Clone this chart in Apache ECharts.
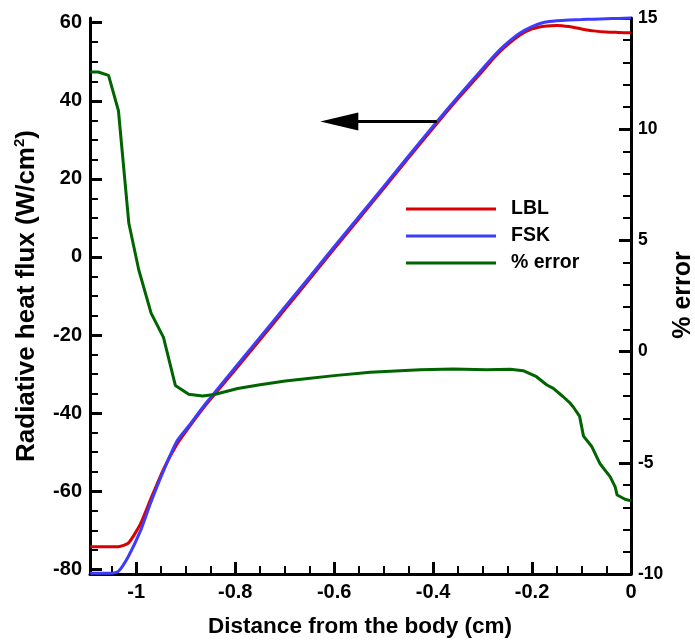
<!DOCTYPE html>
<html>
<head>
<meta charset="utf-8">
<script src="https://cdn.jsdelivr.net/npm/echarts@6/dist/echarts.min.js"></script>
<style>
html,body{margin:0;padding:0;background:#fff;}
#c{width:695px;height:642px;}
</style>
</head>
<body>
<div id="c"></div>
<script>
// ---- data ----
const fluxX = [-1.093, -1.07, -1.05, -1.036, -1.016, -0.992, -0.971, -0.945, -0.918, -0.894, -0.86, -0.8, -0.75, -0.7, -0.65, -0.6, -0.55, -0.5, -0.45, -0.4, -0.35, -0.3, -0.275, -0.25, -0.225, -0.2, -0.175, -0.15, -0.125, -0.1, -0.075, -0.05, -0.025, 0];
const lblValues = [-74.2, -74.2, -74.2, -74.2, -73.3, -68.5, -62.1, -54.4, -48.0, -43.7, -38.0, -28.9, -21.2, -13.5, -5.7, 2.1, 9.8, 17.5, 25.3, 33.0, 40.5, 47.6, 51.3, 54.3, 56.8, 58.4, 59.1, 59.3, 59.0, 58.4, 57.9, 57.6, 57.5, 57.4];
const fskValues = [-81.0, -81.0, -81.0, -80.5, -76.7, -70.3, -63.0, -54.8, -47.2, -43.3, -37.6, -28.3, -20.6, -12.9, -5.2, 2.6, 10.3, 18.0, 25.8, 33.5, 41.0, 48.2, 51.8, 54.8, 57.3, 59.0, 60.1, 60.5, 60.7, 60.8, 60.9, 61.0, 61.1, 61.2];
const errX = [-1.093, -1.077, -1.056, -1.036, -1.015, -0.995, -0.970, -0.945, -0.921, -0.894, -0.866, -0.842, -0.795, -0.753, -0.699, -0.662, -0.6, -0.527, -0.426, -0.359, -0.292, -0.244, -0.218, -0.191, -0.170, -0.157, -0.137, -0.123, -0.117, -0.104, -0.096, -0.079, -0.063, -0.042, -0.032, -0.028, -0.012, 0];
const errValues = [12.57, 12.57, 12.42, 10.83, 5.77, 3.68, 1.73, 0.64, -1.52, -1.92, -2.00, -1.93, -1.66, -1.50, -1.32, -1.23, -1.08, -0.93, -0.82, -0.78, -0.82, -0.79, -0.86, -1.13, -1.50, -1.65, -2.03, -2.32, -2.48, -2.90, -3.80, -4.28, -5.03, -5.63, -6.08, -6.45, -6.64, -6.71];
const seriesNames = ['LBL', 'FSK', '% error'];
const xTicks = [-1, -0.8, -0.6, -0.4, -0.2, 0];
const yLeftTicks = [-80, -60, -40, -20, 0, 20, 40, 60];
const yRightTicks = [-10, -5, 0, 5, 10, 15];
const arrowFrom = [-0.3925, 34.7];
const arrowTo = [-0.628, 34.7];

// minor tick positions
function minors(a, b, step, major) {
  const out = [];
  for (let v = a; v <= b + 1e-9; v += step) {
    const r = Math.round(v * 1000) / 1000;
    if (Math.abs(r / major - Math.round(r / major)) > 1e-6) out.push(r);
  }
  return out;
}
const xMinor = minors(-1.05, -0.05, 0.05, 0.2);
const yLeftMinor = minors(-75, 55, 5, 20);
const yRightMinor = minors(-9, 14, 1, 5);

const FONT = '"Liberation Sans", Arial, Helvetica, sans-serif';
const X_MIN = -1.0935, X_MAX = 0;
const YL_MIN = -81.2, YL_MAX = 61.2;
const YR_MIN = -10, YR_MAX = 15;

const chart = echarts.init(document.getElementById('c'), null, {renderer: 'canvas'});
const axisLineStyle = {color: '#000', width: 3};
const zip = (xs, ys) => xs.map((x, i) => [x, ys[i]]);
const gridBox = {left: 90, right: 64, top: 18, bottom: 68};
const hiddenLine = {show: false, onZero: false};
const majorTick = vals => ({show: true, inside: true, length: 12, lineStyle: {width: 3, color: '#000'}, customValues: vals});
const minorTick = vals => ({show: true, inside: true, length: 8, lineStyle: {width: 2, color: '#000'}, customValues: vals});

const option = {
  animation: false,
  backgroundColor: '#fff',
  grid: [Object.assign({}, gridBox), Object.assign({}, gridBox)],
  legend: {
    orient: 'vertical', left: 406, top: 199, padding: 0, icon: 'rect',
    itemWidth: 90, itemHeight: 3, itemGap: 7, data: seriesNames,
    textStyle: {fontFamily: FONT, fontWeight: 'bold', fontSize: 19.5, color: '#000', lineHeight: 20, padding: [0, 0, 0, 10]}
  },
  xAxis: [
    {type: 'value', gridIndex: 0, min: X_MIN, max: X_MAX, position: 'bottom',
      axisLine: {show: true, onZero: false, lineStyle: axisLineStyle},
      axisTick: majorTick(xTicks),
      axisLabel: {show: true, margin: 8, fontFamily: FONT, fontWeight: 'bold', fontSize: 20, color: '#000',
        customValues: xTicks, formatter: v => String(+(+v).toFixed(1))},
      splitLine: {show: false}},
    {type: 'value', gridIndex: 1, min: X_MIN, max: X_MAX, position: 'bottom',
      axisLine: hiddenLine, axisTick: minorTick(xMinor),
      axisLabel: {show: false}, splitLine: {show: false}}
  ],
  yAxis: [
    {type: 'value', gridIndex: 0, min: YL_MIN, max: YL_MAX, position: 'left',
      axisLine: {show: true, onZero: false, lineStyle: axisLineStyle},
      axisTick: majorTick(yLeftTicks),
      axisLabel: {show: true, margin: 8, fontFamily: FONT, fontWeight: 'bold', fontSize: 20, color: '#000', customValues: yLeftTicks},
      splitLine: {show: false}},
    {type: 'value', gridIndex: 0, min: YR_MIN, max: YR_MAX, position: 'right',
      axisLine: {show: true, onZero: false, lineStyle: axisLineStyle},
      axisTick: majorTick(yRightTicks),
      axisLabel: {show: true, margin: 7, fontFamily: FONT, fontWeight: 'bold', fontSize: 17.5, color: '#000', customValues: yRightTicks},
      splitLine: {show: false}},
    {type: 'value', gridIndex: 1, min: YL_MIN, max: YL_MAX, position: 'left',
      axisLine: hiddenLine, axisTick: minorTick(yLeftMinor),
      axisLabel: {show: false}, splitLine: {show: false}},
    {type: 'value', gridIndex: 1, min: YR_MIN, max: YR_MAX, position: 'right',
      axisLine: hiddenLine, axisTick: minorTick(yRightMinor),
      axisLabel: {show: false}, splitLine: {show: false}}
  ],
  series: [
    {name: seriesNames[0], type: 'line', xAxisIndex: 0, yAxisIndex: 0, data: zip(fluxX, lblValues),
      showSymbol: false, symbol: 'none', smooth: 0.2, lineStyle: {color: '#d80000', width: 3}, itemStyle: {color: '#d80000'}},
    {name: seriesNames[1], type: 'line', xAxisIndex: 0, yAxisIndex: 0, data: zip(fluxX, fskValues),
      showSymbol: false, symbol: 'none', smooth: 0.2, clip: false, lineStyle: {color: '#3c3cff', width: 3}, itemStyle: {color: '#3c3cff'}},
    {name: seriesNames[2], type: 'line', xAxisIndex: 0, yAxisIndex: 1, data: zip(errX, errValues),
      showSymbol: false, symbol: 'none', lineStyle: {color: '#006400', width: 3}, itemStyle: {color: '#006400'}}
  ]
};
chart.setOption(option);

// titles and arrow annotation
const p0 = chart.convertToPixel({xAxisIndex: 0, yAxisIndex: 0}, arrowFrom);
const p1 = chart.convertToPixel({xAxisIndex: 0, yAxisIndex: 0}, arrowTo);
const headLen = 38, headHalf = 9;
chart.setOption({
  graphic: [
    {type: 'line', shape: {x1: p0[0], y1: p0[1], x2: p1[0] + headLen - 1, y2: p1[1]}, style: {stroke: '#000', lineWidth: 3}, z: 10},
    {type: 'polygon', shape: {points: [[p1[0], p1[1]], [p1[0] + headLen, p1[1] - headHalf], [p1[0] + headLen, p1[1] + headHalf]]}, style: {fill: '#000'}, z: 10},
    {type: 'text', x: 360, y: 627, style: {text: 'Distance from the body (cm)', font: 'bold 22.5px ' + FONT, fill: '#000', textAlign: 'center', textVerticalAlign: 'middle'}},
    {type: 'text', x: 26, y: 296, rotation: Math.PI / 2, style: {
      text: '{a|Radiative heat flux (W/cm}{s|2}{a|)}', textAlign: 'center', textVerticalAlign: 'middle',
      rich: {a: {font: 'bold 26px ' + FONT, fill: '#000', verticalAlign: 'bottom', lineHeight: 28},
             s: {font: 'bold 15px ' + FONT, fill: '#000', verticalAlign: 'top', lineHeight: 28}}}},
    {type: 'text', x: 683, y: 295, rotation: Math.PI / 2, style: {text: '% error', font: 'bold 25px ' + FONT, fill: '#000', textAlign: 'center', textVerticalAlign: 'middle'}}
  ]
});
</script>
</body>
</html>
